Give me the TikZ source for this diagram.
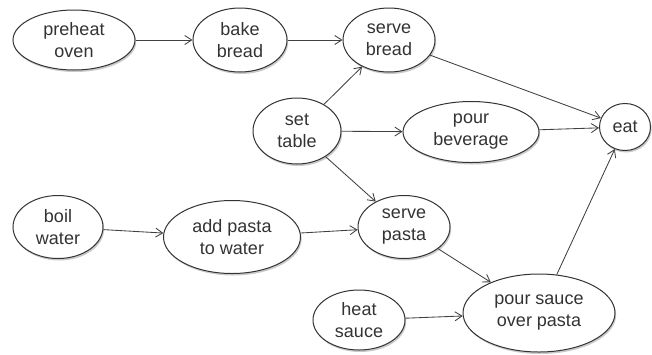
\documentclass[tikz,border=0pt]{standalone}
\usepackage{fontspec}
\setmainfont{Liberation Sans}
\usetikzlibrary{shapes.geometric,arrows.meta,shadows}
\begin{document}
\begin{tikzpicture}[x=1pt,y=-1pt,
  task/.style={ellipse, draw=black!80, line width=1pt, fill=white,
    inner sep=0pt, align=center, text=black!80,
    font=\fontsize{18}{22}\selectfont,
    drop shadow={shadow xshift=1.2pt, shadow yshift=-2pt, opacity=0.35, fill=black!60}},
  flow/.style={draw=black!75, line width=0.85pt, -{Straight Barb[length=7pt,width=9pt]}}]
\useasboundingbox (0,0) rectangle (652,354);
\node[task, minimum width=122pt, minimum height=60pt] (preheat) at (74,40) {preheat\\oven};
\node[task, minimum width=94pt, minimum height=64pt] (bake) at (240,40) {bake\\bread};
\node[task, minimum width=92pt, minimum height=64pt] (servebread) at (389,40) {serve\\bread};
\node[task, minimum width=88pt, minimum height=66pt] (table) at (297,131) {set\\table};
\node[task, minimum width=136pt, minimum height=61pt] (beverage) at (471,132) {pour\\beverage};
\node[task, minimum width=51pt, minimum height=47pt] (eat) at (625,127) {eat};
\node[task, minimum width=90pt, minimum height=63pt] (boil) at (58,227) {boil\\water};
\node[task, minimum width=137pt, minimum height=73pt] (addpasta) at (232,237) {add pasta\\to water};
\node[task, minimum width=92pt, minimum height=63pt] (servepasta) at (404,227) {serve\\pasta};
\node[task, minimum width=92pt, minimum height=60pt] (heat) at (359,320) {heat\\sauce};
\node[task, minimum width=152pt, minimum height=78pt] (sauce) at (539,313) {pour sauce\\over pasta};
\draw[flow] (preheat) -- (bake);
\draw[flow] (bake) -- (servebread);
\draw[flow] (servebread) -- (eat);
\draw[flow] (table) -- (servebread);
\draw[flow] (table) -- (beverage);
\draw[flow] (table) -- (servepasta);
\draw[flow] (beverage) -- (eat);
\draw[flow] (boil) -- (addpasta);
\draw[flow] (addpasta) -- (servepasta);
\draw[flow] (servepasta) -- (sauce);
\draw[flow] (heat) -- (sauce);
\draw[flow] (sauce) -- (eat);
\end{tikzpicture}
\end{document}
